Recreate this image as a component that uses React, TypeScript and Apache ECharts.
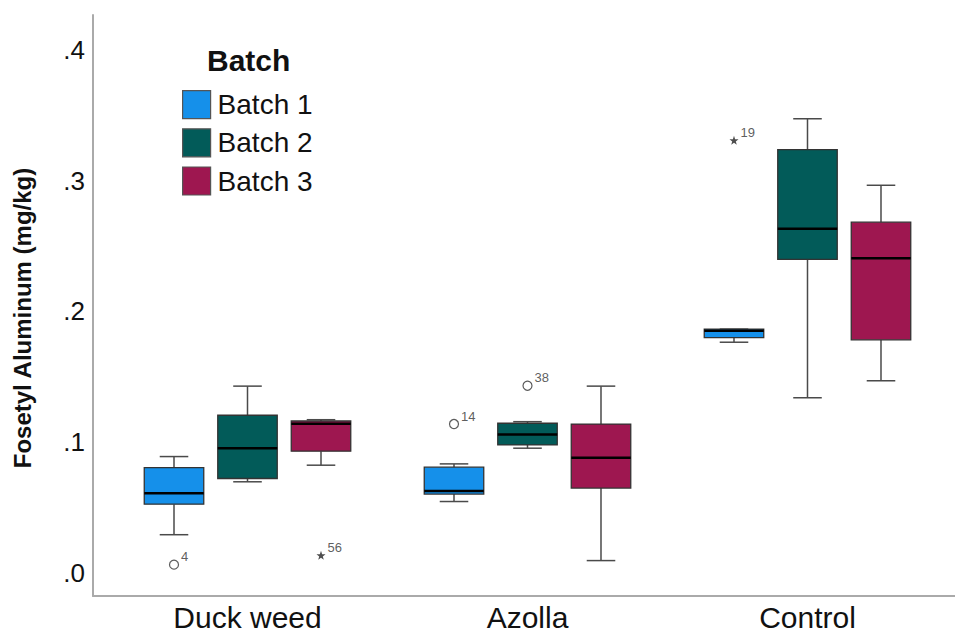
import React, { useEffect, useRef } from "react";
import * as echarts from "echarts";

const categories = ["Duck weed", "Azolla", "Control"];
const batches = ["Batch 1", "Batch 2", "Batch 3"];
const colors = ["#1590EA", "#025B59", "#9E1750"];

// [low, q1, median, q3, high] per category
const batch1 = [
  [0.029, 0.0524, 0.0608, 0.0804, 0.0888],
  [0.0544, 0.0601, 0.0624, 0.0807, 0.0832],
  [0.1763, 0.1798, 0.1851, 0.1863, 0.1863],
];
const batch2 = [
  [0.0695, 0.072, 0.0952, 0.1204, 0.1427],
  [0.0952, 0.0977, 0.1056, 0.1143, 0.1155],
  [0.1338, 0.2397, 0.2631, 0.3237, 0.3473],
];
const batch3 = [
  [0.0822, 0.0929, 0.114, 0.116, 0.117],
  [0.0092, 0.0647, 0.0878, 0.1137, 0.1427],
  [0.1468, 0.1781, 0.2405, 0.2682, 0.2964],
];
const boxData = [batch1, batch2, batch3];

// outliers: category index, batch index, value, case label
const outlierCat = [0, 0, 1, 1, 2];
const outlierBatch = [0, 2, 0, 1, 0];
const outlierValue = [0.0061, 0.0132, 0.1137, 0.143, 0.3308];
const outlierLabel = ["4", "56", "14", "38", "19"];
const outlierExtreme = [false, true, false, false, true];

const yTicks = [0, 0.1, 0.2, 0.3, 0.4];

const OFFSET = 0.2625;
const BOX_W = 0.2125;
const FONT = "Liberation Sans, Arial, sans-serif";
const STAR =
  "path://M0,-10 L2.35,-3.24 L9.51,-3.09 L3.8,1.24 L5.88,8.09 L0,4 L-5.88,8.09 L-3.8,1.24 L-9.51,-3.09 L-2.35,-3.24 Z";

export default function App() {
  const ref = useRef<HTMLDivElement>(null);
  useEffect(() => {
    if (!ref.current) return;
    const chart = echarts.init(ref.current, null, { renderer: "svg" });

    const boxSeries = batches.map((name, b) => ({
      type: "custom",
      name,
      data: boxData[b].map((r, c) => [c + (b - 1) * OFFSET, ...r]),
      encode: { x: 0, y: [1, 2, 3, 4, 5] },
      itemStyle: { color: colors[b] },
      z: 2,
      renderItem: (params: any, api: any) => {
        const x = api.value(0);
        const low = api.coord([x, api.value(1)]);
        const q1 = api.coord([x, api.value(2)]);
        const med = api.coord([x, api.value(3)]);
        const q3 = api.coord([x, api.value(4)]);
        const high = api.coord([x, api.value(5)]);
        const w = api.size([BOX_W, 0])[0];
        const cx = low[0];
        const capW = w * 0.48;
        const wStyle = { stroke: "#4a4a4a", lineWidth: 1.5 };
        return {
          type: "group",
          children: [
            { type: "line", shape: { x1: cx, y1: q3[1], x2: cx, y2: high[1] }, style: wStyle },
            { type: "line", shape: { x1: cx, y1: low[1], x2: cx, y2: q1[1] }, style: wStyle },
            { type: "line", shape: { x1: cx - capW / 2, y1: high[1], x2: cx + capW / 2, y2: high[1] }, style: wStyle },
            { type: "line", shape: { x1: cx - capW / 2, y1: low[1], x2: cx + capW / 2, y2: low[1] }, style: wStyle },
            {
              type: "rect",
              shape: { x: cx - w / 2, y: q3[1], width: w, height: q1[1] - q3[1] },
              style: { fill: colors[b], stroke: "#333333", lineWidth: 1.3 },
            },
            {
              type: "line",
              shape: { x1: cx - w / 2, y1: med[1], x2: cx + w / 2, y2: med[1] },
              style: { stroke: "#000000", lineWidth: 2.5 },
            },
          ],
        };
      },
    }));

    const outlierPoints = outlierValue.map((v, i) => ({
      value: [outlierCat[i] + (outlierBatch[i] - 1) * OFFSET, v],
      name: outlierLabel[i],
      symbol: outlierExtreme[i] ? STAR : "circle",
      symbolSize: 9,
      itemStyle: outlierExtreme[i]
        ? { color: "#222222", borderWidth: 0 }
        : { color: "#ffffff", borderColor: "#333333", borderWidth: 1.2 },
    }));

    chart.setOption({
      animation: false,
      backgroundColor: "#ffffff",
      textStyle: { fontFamily: FONT },
      grid: { left: 93, right: 0, top: 15, bottom: 34.5 },
      title: {
        text: "Batch",
        left: 207,
        top: 45,
        padding: 0,
        textStyle: { fontSize: 30, fontWeight: "bold", color: "#111111", fontFamily: FONT },
      },
      legend: {
        orient: "vertical",
        left: 182,
        top: 90,
        padding: 0,
        itemWidth: 28,
        itemHeight: 28,
        itemGap: 9,
        icon: "rect",
        textStyle: { fontSize: 28, color: "#111111", fontFamily: FONT, padding: [0, 0, 0, 2] },
        data: batches.map((n, b) => ({
          name: n,
          itemStyle: { color: colors[b], borderColor: "#555555", borderWidth: 1.2 },
        })),
      },
      xAxis: {
        type: "value",
        min: -0.5518,
        max: 2.5268,
        axisLine: { show: true, onZero: false, lineStyle: { color: "#aaaaaa", width: 2 } },
        axisTick: { show: false },
        splitLine: { show: false },
        axisLabel: {
          customValues: [0, 1, 2],
          formatter: (v: number) => categories[Math.round(v)] ?? "",
          fontSize: 30,
          color: "#111111",
          margin: 6,
        },
      },
      yAxis: {
        type: "value",
        min: -0.0179,
        max: 0.4267,
        axisLine: { show: true, onZero: false, lineStyle: { color: "#aaaaaa", width: 2 } },
        axisTick: { show: false },
        splitLine: { show: false },
        axisLabel: {
          customValues: yTicks,
          formatter: (v: number) => "." + Math.round(v * 10),
          fontSize: 26,
          color: "#111111",
          margin: 8,
        },
      },
      graphic: [
        {
          type: "text",
          x: 22,
          y: 318,
          rotation: Math.PI / 2,
          style: {
            text: "Fosetyl Aluminum (mg/kg)",
            fontSize: 24,
            fontWeight: "bold",
            fill: "#111111",
            fontFamily: FONT,
            align: "center",
            verticalAlign: "middle",
          },
        },
      ],
      series: [
        ...boxSeries,
        {
          type: "scatter",
          name: "outliers",
          data: outlierPoints,
          z: 3,
          label: {
            show: true,
            formatter: (p: any) => p.name,
            position: "right",
            distance: 2,
            offset: [0, -8],
            fontSize: 13,
            color: "#333333",
          },
        },
      ],
    });
    return () => chart.dispose();
  }, []);
  return (
    <div
      ref={ref}
      style={{ position: "fixed", left: 0, top: 0, width: 955, height: 632 }}
    />
  );
}
